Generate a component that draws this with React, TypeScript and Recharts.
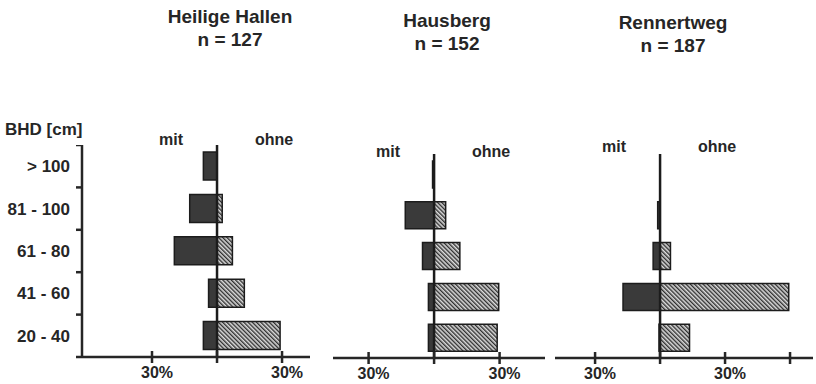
import React from 'react';
import { BarChart, Bar, XAxis, YAxis, ReferenceLine } from 'recharts';

// diameter classes (BHD), top to bottom
const classes = ['> 100', '81 - 100', '61 - 80', '41 - 60', '20 - 40'];

const sites = ['Heilige Hallen', 'Hausberg', 'Rennertweg'];
const nTrees = [127, 152, 187];

// share of trees in % - "mit" goes left, "ohne" goes right
const mitHeilige = [6.3, 12.6, 19.7, 3.9, 6.3];
const ohneHeilige = [0, 2.4, 7.1, 12.6, 29.1];
const mitHausberg = [0.7, 13.2, 5.3, 2.6, 2.6];
const ohneHausberg = [0, 5.3, 11.8, 29.6, 28.9];
const mitRennertweg = [0, 1.1, 3.2, 17.1, 0.5];
const ohneRennertweg = [0, 0, 4.8, 59.4, 13.6];

const ink = '#262626';
const font = '"Liberation Sans", Arial, sans-serif';

const toRows = (mit: number[], ohne: number[]) =>
  classes.map((cls, i) => ({ cls, mit: -mit[i], ohne: ohne[i] }));

const XTick = (props: any) => {
  const { x, y, payload } = props;
  const v = payload.value;
  return (
    <g>
      <line x1={x} x2={x} y1={y - 6} y2={y + 6} stroke={ink} strokeWidth={2.5} />
      {Math.abs(v) === 30 && (
        <text x={x + 5} y={y + 21} textAnchor="middle" fontSize={16} fontWeight="bold" fontFamily={font} fill={ink}>
          30%
        </text>
      )}
    </g>
  );
};

const makeYTick = (band: number) => (props: any) => {
  const { x, y, payload, index } = props;
  return (
    <g>
      <text x={x - 12} y={y + 6} textAnchor="end" fontSize={17} fontWeight="bold" fontFamily={font} fill={ink}>
        {payload.value}
      </text>
      <line x1={x - 6} x2={x} y1={y + band / 2} y2={y + band / 2} stroke={ink} strokeWidth={2.5} />
      {index === 0 && <line x1={x - 6} x2={x} y1={y - band / 2} y2={y - band / 2} stroke={ink} strokeWidth={2.5} />}
    </g>
  );
};

interface PanelProps {
  id: string;
  mit: number[];
  ohne: number[];
  domain: [number, number];
  ticks: number[];
  left: number;
  top: number;
  width: number;
  plotHeight: number;
  barSize: number;
  withAxis?: boolean;
}

const Panel = ({ id, mit, ohne, domain, ticks, left, top, width, plotHeight, barSize, withAxis }: PanelProps) => {
  const rows = toRows(mit, ohne);
  const axisH = 384 - top - plotHeight;
  return (
    <div style={{ position: 'absolute', left, top }}>
      <BarChart
        width={width}
        height={plotHeight + axisH}
        data={rows}
        layout="vertical"
        stackOffset="sign"
        barSize={barSize}
        margin={{ top: 0, right: 0, bottom: 0, left: 0 }}
      >
        <defs>
          <pattern id={id} patternUnits="userSpaceOnUse" width={3} height={3} patternTransform="rotate(-45)">
            <rect x={0} y={0} width={3} height={3} fill="#dcdcdc" />
            <rect x={0} y={0} width={1.4} height={3} fill="#303030" />
          </pattern>
        </defs>
        <XAxis
          type="number"
          domain={domain}
          allowDataOverflow
          ticks={ticks}
          height={axisH}
          tickSize={0}
          tickMargin={0}
          tickLine={false}
          axisLine={{ stroke: ink, strokeWidth: 2.5 }}
          tick={(p: any) => <XTick {...p} />}
        />
        {withAxis ? (
          <YAxis
            type="category"
            dataKey="cls"
            width={80}
            tickSize={0}
            tickMargin={0}
            tickLine={false}
            axisLine={{ stroke: ink, strokeWidth: 2.5 }}
            tick={makeYTick(plotHeight / classes.length)}
          />
        ) : (
          <YAxis type="category" dataKey="cls" hide />
        )}
        <Bar dataKey="mit" stackId="s" fill="#3a3a3a" stroke="#1c1c1c" strokeWidth={1.5} isAnimationActive={false} />
        <Bar dataKey="ohne" stackId="s" fill={`url(#${id})`} stroke="#1c1c1c" strokeWidth={1.5} isAnimationActive={false} />
        <ReferenceLine x={0} stroke="#1c1c1c" strokeWidth={2.5} />
      </BarChart>
    </div>
  );
};

const centers = [217, 434, 660];
const mitBase = [145, 157, 152];
const titleY = [23, 27, 29];

export default function App() {
  return (
    <div style={{ position: 'absolute', left: 0, top: 0, width: 816, height: 384, overflow: 'hidden', background: '#fff' }}>
      <Panel id="hatch1" mit={mitHeilige} ohne={ohneHeilige} domain={[-62.3, 42.9]} ticks={[-30, 0, 30]}
        left={2} top={145} width={308} plotHeight={212} barSize={28} withAxis />
      <Panel id="hatch2" mit={mitHausberg} ohne={ohneHausberg} domain={[-46.3, 50.8]} ticks={[-30, 0, 30]}
        left={333} top={154} width={212} plotHeight={204} barSize={27} />
      <Panel id="hatch3" mit={mitRennertweg} ohne={ohneRennertweg} domain={[-48.5, 70.6]} ticks={[-30, 0, 30, 60]}
        left={555} top={154} width={258} plotHeight={204} barSize={27} />
      <svg width={816} height={384} style={{ position: 'absolute', left: 0, top: 0, pointerEvents: 'none' }}>
        <g fontFamily={font} fontWeight="bold" fill={ink}>
          {sites.map((s, i) => (
            <g key={s}>
              <text x={centers[i] + 13} y={titleY[i]} textAnchor="middle" fontSize={19}>{s}</text>
              <text x={centers[i] + 13} y={titleY[i] + 23} textAnchor="middle" fontSize={19}>n = {nTrees[i]}</text>
              <text x={centers[i] - 34} y={mitBase[i]} textAnchor="end" fontSize={16}>mit</text>
              <text x={centers[i] + 38} y={mitBase[i]} textAnchor="start" fontSize={16}>ohne</text>
            </g>
          ))}
          <text x={5} y={135} fontSize={17}>BHD [cm]</text>
        </g>
      </svg>
    </div>
  );
}
